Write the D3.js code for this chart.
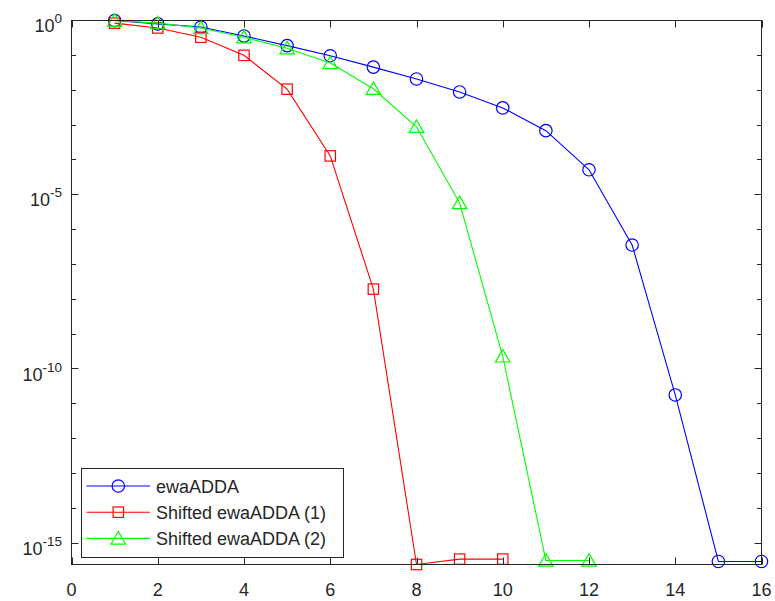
<!DOCTYPE html>
<html>
<head>
<meta charset="utf-8">
<script src="https://cdn.jsdelivr.net/npm/d3@7/dist/d3.min.js"></script>
<style>
  html, body { margin: 0; padding: 0; background: #ffffff; }
  svg { display: block; }
  text { font-family: "Liberation Sans", Arial, Helvetica, sans-serif; fill: #262626; }
</style>
</head>
<body>
<svg id="chart" width="775" height="601"></svg>
<script>
// ---- data ----
const iterations = [1,2,3,4,5,6,7,8,9,10,11,12,13,14,15,16];
const ewaADDA = [1, 0.80, 0.65, 0.36, 0.19, 0.097, 0.046, 0.021, 8.9e-3, 3.1e-3, 6.9e-4, 5.2e-5, 3.6e-7, 1.8e-11, 3.0e-16, 3.0e-16];
const shifted1X = [1,2,3,4,5,6,7,8,9,10];
const shifted1 = [0.84, 0.61, 0.33, 0.10, 0.0107, 1.3e-4, 1.96e-8, 2.45e-16, 3.5e-16, 3.5e-16];
const shifted2X = [1,2,3,4,5,6,7,8,9,10,11,12];
const shifted2 = [1, 0.84, 0.61, 0.33, 0.16, 0.060, 0.011, 8.9e-4, 5.8e-6, 2.3e-10, 3.2e-16, 3.2e-16];
const xTicks = [0,2,4,6,8,10,12,14,16];
const yMajorExp = [0,-5,-10,-15];
const yMinorExp = d3.range(0,-16,-1);
const legendLabels = ["ewaADDA", "Shifted ewaADDA (1)", "Shifted ewaADDA (2)"];

const series = [
  {name: legendLabels[0], xs: iterations, ys: ewaADDA, color: "#0000ff", marker: "circle"},
  {name: legendLabels[1], xs: shifted1X, ys: shifted1, color: "#ff0000", marker: "square"},
  {name: legendLabels[2], xs: shifted2X, ys: shifted2, color: "#00ff00", marker: "triangle"}
];

const svg = d3.select("#chart");
const L = 71.5, R = 761.5, T = 20.5, B = 564.5;
const axisColor = "#262626";

const yMin = d3.min(series.flatMap(s => s.ys));
const x = d3.scaleLinear().domain([0,16]).range([L,R]);
const y = d3.scaleLog().domain([yMin, 1]).range([B,T]);

// ---- data lines and markers ----
const line = d3.line().x(d => x(d[0])).y(d => y(d[1]));

function drawMarker(g, type, cx, cy, color) {
  if (type === "circle") {
    g.append("circle").attr("cx", cx).attr("cy", cy).attr("r", 6.2)
      .attr("fill", "none").attr("stroke", color).attr("stroke-width", 1.2);
  } else if (type === "square") {
    const s = 10.4;
    g.append("rect").attr("x", cx - s/2).attr("y", cy - s/2).attr("width", s).attr("height", s)
      .attr("fill", "none").attr("stroke", color).attr("stroke-width", 1.2);
  } else {
    const w = 14.5, h = 12.5;
    g.append("path").attr("d", `M${cx},${cy - h*0.55}L${cx + w/2},${cy + h*0.45}L${cx - w/2},${cy + h*0.45}Z`)
      .attr("fill", "none").attr("stroke", color).attr("stroke-width", 1.2);
  }
}

series.forEach(s => {
  const pts = s.xs.map((v,i) => [v, s.ys[i]]);
  const g = svg.append("g");
  g.append("path").attr("d", line(pts)).attr("fill", "none")
    .attr("stroke", s.color).attr("stroke-width", 1.1);
  pts.forEach(p => drawMarker(g, s.marker, x(p[0]), y(p[1]), s.color));
});

// ---- axes box ----
const ax = svg.append("g").attr("stroke", axisColor).attr("stroke-width", 1).attr("fill", "none");
ax.append("rect").attr("x", L).attr("y", T).attr("width", R - L).attr("height", B - T);

// x ticks (bottom & top, inward)
xTicks.forEach(t => {
  const px = Math.round(x(t)) + 0.5;
  ax.append("line").attr("x1", px).attr("x2", px).attr("y1", B).attr("y2", B - 7);
  ax.append("line").attr("x1", px).attr("x2", px).attr("y1", T).attr("y2", T + 7);
  svg.append("text").attr("x", x(t)).attr("y", B + 31).attr("text-anchor", "middle")
    .attr("font-size", 18).text(t);
});

// y ticks
yMinorExp.forEach(e => {
  const isMajor = yMajorExp.includes(e);
  const len = isMajor ? 7 : 4.5;
  const py = Math.round(y(Math.pow(10, e)) - 0.5) + 0.5;
  ax.append("line").attr("x1", L).attr("x2", L + len).attr("y1", py).attr("y2", py);
  ax.append("line").attr("x1", R).attr("x2", R - len).attr("y1", py).attr("y2", py);
});

yMajorExp.forEach(e => {
  const py = y(Math.pow(10, e));
  const t = svg.append("text").attr("x", 62).attr("y", py + 11.6).attr("text-anchor", "end")
    .attr("font-size", 18);
  t.append("tspan").text("10");
  t.append("tspan").attr("dy", -9).attr("font-size", 13.5).text(String(e));
});

// ---- legend ----
const lg = svg.append("g");
lg.append("rect").attr("x", 81.5).attr("y", 468.5).attr("width", 262).attr("height", 89)
  .attr("fill", "#ffffff").attr("stroke", axisColor).attr("stroke-width", 1);
series.forEach((s, i) => {
  const cy = 486 + i * 26.2;
  lg.append("line").attr("x1", 86.5).attr("x2", 150).attr("y1", cy).attr("y2", cy)
    .attr("stroke", s.color).attr("stroke-width", 1.1);
  drawMarker(lg, s.marker, 118.3, cy, s.color);
  lg.append("text").attr("x", 156).attr("y", cy + 6.5).attr("font-size", 18).text(s.name);
});
</script>
</body>
</html>
